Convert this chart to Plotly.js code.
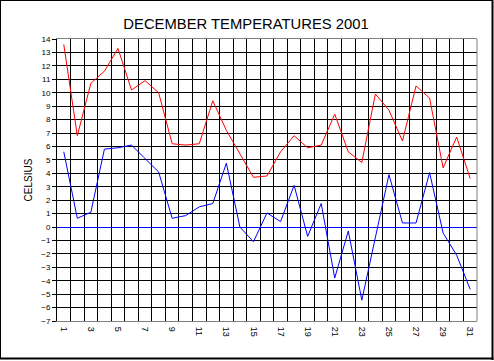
<!DOCTYPE html>
<html>
<head>
<meta charset="utf-8">
<script src="https://cdn.plot.ly/plotly-3.0.1.min.js"></script>
<style>
html,body{margin:0;padding:0;background:#fff;overflow:hidden;}
#chart{width:494px;height:361px;}
</style>
</head>
<body>
<div id="chart"></div>
<script>
const days = [1,2,3,4,5,6,7,8,9,10,11,12,13,14,15,16,17,18,19,20,21,22,23,24,25,26,27,28,29,30,31];
const maxTemps = [13.6, 6.8, 10.7, 11.6, 13.3, 10.2, 10.9, 10.0, 6.2, 6.1, 6.2, 9.4, 7.2, 5.5, 3.7, 3.8, 5.6, 6.8, 5.9, 6.1, 8.4, 5.6, 4.8, 9.9, 8.7, 6.4, 10.5, 9.6, 4.4, 6.7, 3.6];
const minTemps = [5.6, 0.65, 1.1, 5.8, 5.9, 6.1, 5.1, 4.1, 0.65, 0.85, 1.5, 1.75, 4.75, 0.0, -1.1, 1.05, 0.4, 3.1, -0.7, 1.75, -3.8, -0.3, -5.45, -0.8, 3.9, 0.3, 0.3, 4.05, -0.45, -2.1, -4.65];
const xTickVals = [1,3,5,7,9,11,13,15,17,19,21,23,25,27,29,31];
const xTickText = ['1','3','5','7','9','11','13','15','17','19','21','23','25','27','29','31'];

const W = 494, H = 361, ML = 57, MR = 17, MT = 39, MB = 40;
const pw = W - ML - MR, ph = H - MT - MB;
function px(x){ return (x - ML) / pw; }
function py(y){ return 1 - (y - MT) / ph; }

const font = 'Arial, "Liberation Sans", sans-serif';
const traces = [
  {x: days, y: maxTemps, type: 'scatter', mode: 'lines', line: {color: '#ff0000', width: 1}, hoverinfo: 'none', name: 'max'},
  {x: days, y: minTemps, type: 'scatter', mode: 'lines', line: {color: '#0000ff', width: 1}, hoverinfo: 'none', name: 'min'}
];
const layout = {
  width: W, height: H,
  margin: {l: ML, r: MR, t: MT, b: MB, pad: 0},
  paper_bgcolor: '#ffffff', plot_bgcolor: '#ffffff',
  showlegend: false,
  title: {text: 'DECEMBER TEMPERATURES 2001', font: {family: font, size: 14.8, color: '#000'}, x: 246/W, xref: 'container', xanchor: 'center', y: 1 - 24/H, yref: 'container', yanchor: 'middle'},
  xaxis: {
    range: [0.5, 31.5], tickmode: 'array', tickvals: xTickVals, ticktext: xTickText,
    tickangle: 90, ticks: '', showgrid: false, zeroline: false, ticklabelstandoff: 3,
    showline: true, linecolor: '#808080', linewidth: 1, mirror: true,
    tickfont: {family: font, size: 9, color: '#000'},
    minor: {tickmode: 'linear', tick0: 0.5, dtick: 1, showgrid: true, gridcolor: '#000000', gridwidth: 1, ticks: ''},
    fixedrange: true
  },
  yaxis: {
    range: [-7, 14], tickmode: 'linear', tick0: -7, dtick: 1,
    showgrid: true, gridcolor: '#000000', gridwidth: 1,
    zeroline: true, zerolinecolor: '#0000ff', zerolinewidth: 1,
    showline: true, linecolor: '#000000', linewidth: 1,
    ticks: 'outside', ticklen: 4, tickcolor: '#000', tickwidth: 1,
    tickfont: {family: font, size: 8, color: '#000'},
    title: {text: 'CELSIUS', font: {family: font, size: 10, color: '#000'}, standoff: 6},
    fixedrange: true
  },
  shapes: [
    {type: 'line', xref: 'paper', yref: 'paper', x0: 1, x1: 1, y0: 0, y1: 1, line: {color: '#808080', width: 1}},
    {type: 'line', xref: 'paper', yref: 'paper', x0: px(0.5), x1: px(0.5), y0: py(0), y1: py(359), line: {color: '#000', width: 1}},
    {type: 'line', xref: 'paper', yref: 'paper', x0: px(0), x1: px(493), y0: py(0.5), y1: py(0.5), line: {color: '#000', width: 1}},
    {type: 'line', xref: 'paper', yref: 'paper', x0: px(492.5), x1: px(492.5), y0: py(0), y1: py(360), line: {color: '#000', width: 2}},
    {type: 'line', xref: 'paper', yref: 'paper', x0: px(0), x1: px(493.5), y0: py(358.5), y1: py(358.5), line: {color: '#000', width: 2}}
  ]
};
Plotly.newPlot('chart', traces, layout, {staticPlot: true, displayModeBar: false});
</script>
</body>
</html>
